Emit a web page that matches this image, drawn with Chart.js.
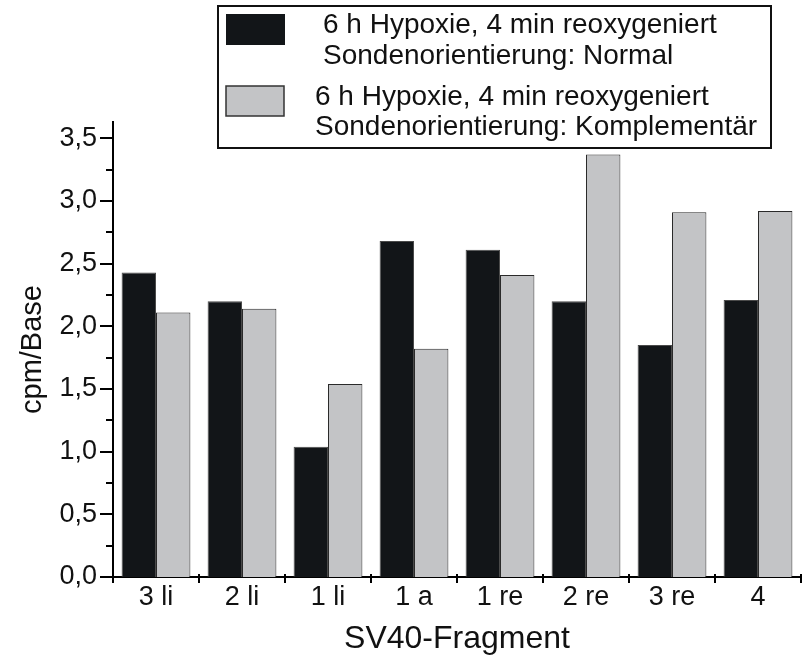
<!DOCTYPE html>
<html>
<head>
<meta charset="utf-8">
<script src="https://cdn.jsdelivr.net/npm/chart.js@4.4.0/dist/chart.umd.min.js"></script>
<style>
    html, body { margin: 0; padding: 0; background: #fff; }
    #wrap { width: 803px; height: 658px; }
</style>
</head>
<body>
<div id="wrap"><canvas id="myChart" width="803" height="658"></canvas></div>
<script>
// Daten
var fragments = ['3 li', '2 li', '1 li', '1 a', '1 re', '2 re', '3 re', '4'];
var normalValues = [2.43, 2.20, 1.04, 2.68, 2.61, 2.20, 1.85, 2.21];
var komplValues = [2.11, 2.14, 1.54, 1.82, 2.41, 3.37, 2.91, 2.92];
var yMajorTicks = [0, 0.5, 1, 1.5, 2, 2.5, 3, 3.5];
var yMinorTicks = [0.25, 0.75, 1.25, 1.75, 2.25, 2.75, 3.25];
var legendNormal = ['6 h Hypoxie, 4 min reoxygeniert', 'Sondenorientierung: Normal'];
var legendKompl = ['6 h Hypoxie, 4 min reoxygeniert', 'Sondenorientierung: Komplementär'];

var FONT = '"Liberation Sans", Arial, sans-serif';
var BLACK = '#121518';
var GREY = '#c3c4c6';

// Achsenstriche (Haupt- und Nebenstriche) + Legende im Kasten
var axisDecor = {
    id: 'axisDecor',
    afterDraw: function(chart) {
        var ctx = chart.ctx;
        var ys = chart.scales.y;
        var xs = chart.scales.x;
        var area = chart.chartArea;
        ctx.save();
        ctx.strokeStyle = '#000';
        ctx.lineWidth = 2;

        yMajorTicks.forEach(function(v) {
            var py = Math.round(ys.getPixelForValue(v));
            ctx.beginPath();
            ctx.moveTo(area.left - 13, py);
            ctx.lineTo(area.left, py);
            ctx.stroke();
        });
        yMinorTicks.forEach(function(v) {
            var py = Math.round(ys.getPixelForValue(v));
            ctx.beginPath();
            ctx.moveTo(area.left - 7, py);
            ctx.lineTo(area.left, py);
            ctx.stroke();
        });

        var step = xs.getPixelForValue(1) - xs.getPixelForValue(0);
        for (var i = 0; i <= fragments.length; i++) {
            var px = Math.round(xs.getPixelForValue(0) - step / 2 + i * step);
            if (px > chart.width - 1) px = chart.width - 1;
            ctx.beginPath();
            ctx.moveTo(px, area.bottom - 3);
            ctx.lineTo(px, area.bottom + 6);
            ctx.stroke();
        }

        // Legende
        ctx.lineWidth = 2;
        ctx.strokeStyle = '#111';
        ctx.strokeRect(218, 6, 553, 142);

        ctx.fillStyle = BLACK;
        ctx.fillRect(226, 14, 59, 31);
        ctx.fillStyle = GREY;
        ctx.fillRect(226, 86, 58, 30);
        ctx.lineWidth = 1.5;
        ctx.strokeStyle = '#333';
        ctx.strokeRect(226, 86, 58, 30);

        ctx.fillStyle = '#111';
        ctx.font = '28px ' + FONT;
        ctx.textBaseline = 'alphabetic';
        ctx.textAlign = 'left';
        ctx.fillText(legendNormal[0], 323, 33);
        ctx.fillText(legendNormal[1], 323, 64);
        ctx.fillText(legendKompl[0], 315, 105);
        ctx.fillText(legendKompl[1], 315, 135);
        ctx.restore();
    }
};

var ctx = document.getElementById('myChart').getContext('2d');
var myChart = new Chart(ctx, {
    type: 'bar',
    data: {
        labels: fragments,
        datasets: [
            {
                label: legendNormal.join(' '),
                data: normalValues,
                backgroundColor: BLACK,
                borderColor: '#4a4a4a',
                borderWidth: 1,
                categoryPercentage: 0.80,
                barPercentage: 1.0
            },
            {
                label: legendKompl.join(' '),
                data: komplValues,
                backgroundColor: GREY,
                borderColor: '#2a2a2a',
                borderWidth: 1,
                categoryPercentage: 0.80,
                barPercentage: 1.0
            }
        ]
    },
    options: {
        responsive: false,
        animation: false,
        devicePixelRatio: 1,
        layout: { padding: { top: 122, right: 2, left: 0, bottom: 0 } },
        plugins: {
            legend: { display: false },
            tooltip: { enabled: false }
        },
        scales: {
            x: {
                grid: { display: false, drawTicks: false },
                border: { display: true, color: '#000', width: 2 },
                ticks: {
                    color: '#111',
                    padding: 4,
                    font: { family: FONT, size: 27 }
                },
                title: {
                    display: true,
                    text: 'SV40-Fragment',
                    color: '#111',
                    font: { family: FONT, size: 32, lineHeight: 1 },
                    padding: { top: 0, bottom: 3 }
                },
                afterFit: function(scale) { scale.height = 81; }
            },
            y: {
                min: 0,
                max: 3.63,
                grid: { display: false, drawTicks: false },
                border: { display: true, color: '#000', width: 2 },
                afterBuildTicks: function(scale) {
                    scale.ticks = yMajorTicks.map(function(v) { return { value: v }; });
                },
                ticks: {
                    color: '#111',
                    padding: 16,
                    font: { family: FONT, size: 27 }
                    ,
                    callback: function(v) { return Number(v).toFixed(1).replace('.', ','); }
                },
                title: {
                    display: true,
                    text: 'cpm/Base',
                    color: '#111',
                    font: { family: FONT, size: 29, lineHeight: 1 },
                    padding: { top: 18, bottom: 0 }
                },
                afterFit: function(scale) { scale.width = 113; }
            }
        }
    },
    plugins: [axisDecor]
});
</script>
</body>
</html>
